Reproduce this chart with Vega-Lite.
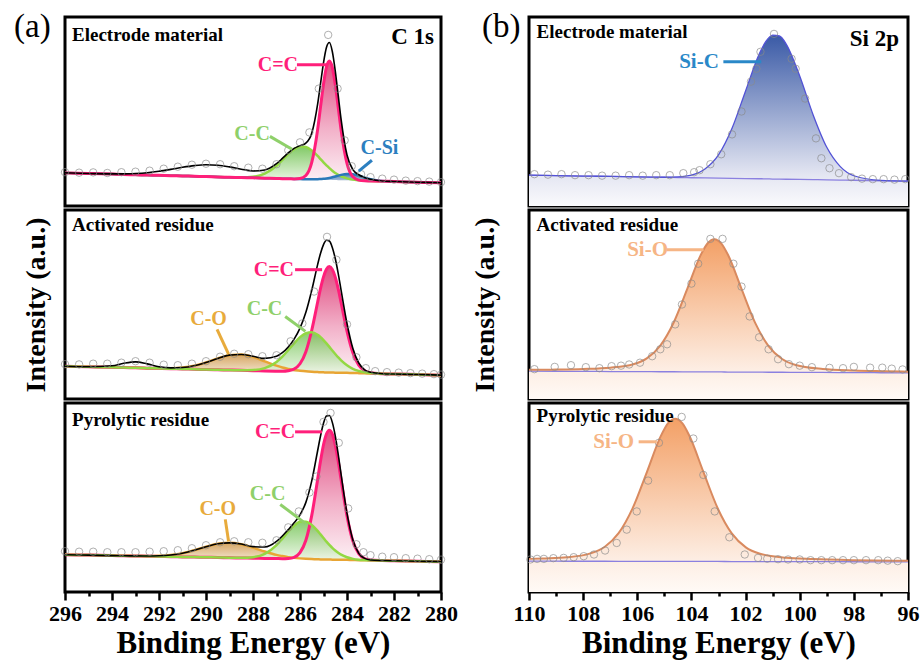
{
"$schema": "https://vega.github.io/schema/vega-lite/v6.json",
"background": "white",
"padding": {"left": 12, "top": 9, "right": 0, "bottom": 0},
"config": {
  "view": {"stroke": "black", "strokeWidth": 3},
  "font": "Liberation Serif",
  "axisY": {"labels": false, "ticks": false, "domain": false, "grid": false, "titleFont": "Liberation Serif", "titleFontSize": 28, "titleFontWeight": "bold", "titleColor": "black"},
  "axisX": {"tickWidth": 2.5, "tickColor": "black", "domain": false, "grid": false, "labelFont": "Liberation Serif", "labelFontSize": 22, "labelFontWeight": "bold", "labelColor": "black", "labelPadding": 3, "labelFlush": false, "labelOverlap": false, "titleFont": "Liberation Serif", "titleFontSize": 31, "titleFontWeight": "bold", "titleColor": "black", "titlePadding": 4}
},
"datasets": {
"L1": [
{"x":296,"b":33.3,"p":33.3,"c":33.3,"s":33.3,"e":33.3},
{"x":295,"b":32.7,"p":32.7,"c":32.7,"s":32.7,"e":32.7},
{"x":294,"b":32.1,"p":32.1,"c":32.1,"s":32.1,"e":32.3},
{"x":293.5,"b":31.7,"p":31.7,"c":31.7,"s":31.7,"e":32.3},
{"x":293,"b":31.4,"p":31.4,"c":31.4,"s":31.4,"e":32.7},
{"x":292.5,"b":31.1,"p":31.1,"c":31.1,"s":31.1,"e":33.5},
{"x":292,"b":30.8,"p":30.8,"c":30.8,"s":30.8,"e":34.9},
{"x":291.5,"b":30.5,"p":30.5,"c":30.5,"s":30.5,"e":36.8},
{"x":291,"b":30.2,"p":30.2,"c":30.2,"s":30.2,"e":38.9},
{"x":290.5,"b":29.9,"p":29.9,"c":29.9,"s":29.9,"e":40.6},
{"x":290,"b":29.6,"p":29.6,"c":29.6,"s":29.6,"e":41.5},
{"x":289.5,"b":29.2,"p":29.2,"c":29.2,"s":29.2,"e":41.0},
{"x":289,"b":28.9,"p":28.9,"c":28.9,"s":28.9,"e":39.3},
{"x":288.5,"b":28.6,"p":28.6,"c":28.8,"s":28.6,"e":37.0},
{"x":288,"b":28.3,"p":28.3,"c":29.4,"s":28.3,"e":35.2},
{"x":287.5,"b":28.0,"p":28.0,"c":32.5,"s":28.0,"e":36.2},
{"x":287,"b":27.7,"p":27.7,"c":40.5,"s":27.7,"e":42.6},
{"x":286.75,"b":27.5,"p":27.5,"c":46.3,"s":27.5,"e":47.8},
{"x":286.5,"b":27.4,"p":27.4,"c":52.3,"s":27.4,"e":53.3},
{"x":286.25,"b":27.2,"p":27.2,"c":57.2,"s":27.2,"e":57.9},
{"x":286,"b":27.1,"p":27.6,"c":59.8,"s":27.1,"e":60.7},
{"x":285.75,"b":26.9,"p":30.6,"c":59.3,"s":26.9,"e":63.3},
{"x":285.5,"b":26.7,"p":43.8,"c":55.8,"s":26.8,"e":73.2},
{"x":285.25,"b":26.6,"p":76.8,"c":50.3,"s":26.9,"e":102.4},
{"x":285.125,"b":26.5,"p":100.0,"c":47.1,"s":27.1,"e":123.3},
{"x":285,"b":26.4,"p":122.5,"c":43.9,"s":27.3,"e":144.0},
{"x":284.875,"b":26.4,"p":139.5,"c":40.9,"s":27.7,"e":159.3},
{"x":284.75,"b":26.3,"p":145.7,"c":38.0,"s":28.2,"e":164.3},
{"x":284.625,"b":26.2,"p":139.3,"c":35.5,"s":28.9,"e":155.3},
{"x":284.5,"b":26.1,"p":122.2,"c":33.2,"s":29.7,"e":135.9},
{"x":284.375,"b":26.0,"p":99.5,"c":31.4,"s":30.5,"e":111.4},
{"x":284.25,"b":26.0,"p":76.2,"c":29.9,"s":31.3,"e":86.9},
{"x":284,"b":25.8,"p":42.9,"c":27.8,"s":32.2,"e":51.3},
{"x":283.75,"b":25.6,"p":29.3,"c":26.5,"s":31.9,"e":36.5},
{"x":283.5,"b":25.5,"p":26.0,"c":25.9,"s":30.5,"e":31.4},
{"x":283.25,"b":25.3,"p":25.3,"c":25.5,"s":28.5,"e":28.7},
{"x":283,"b":25.2,"p":25.2,"c":25.2,"s":26.9,"e":26.9},
{"x":282.5,"b":24.9,"p":24.9,"c":24.9,"s":25.1,"e":25.1},
{"x":282,"b":24.6,"p":24.6,"c":24.6,"s":24.6,"e":24.6},
{"x":281,"b":23.9,"p":23.9,"c":23.9,"s":23.9,"e":23.9},
{"x":280,"b":23.3,"p":23.3,"c":23.3,"s":23.3,"e":23.3}
],
"L2": [
{"x":296,"b":33.0,"p":33.0,"c":33.0,"o":33.0,"e":33.0},
{"x":295,"b":32.4,"p":32.4,"c":32.4,"o":32.4,"e":32.4},
{"x":294,"b":31.9,"p":31.9,"c":31.9,"o":31.9,"e":33.4},
{"x":293.5,"b":31.6,"p":31.6,"c":31.6,"o":31.6,"e":35.9},
{"x":293,"b":31.3,"p":31.3,"c":31.3,"o":31.3,"e":37.3},
{"x":292.5,"b":31.0,"p":31.0,"c":31.0,"o":31.0,"e":35.3},
{"x":292,"b":30.8,"p":30.8,"c":30.8,"o":30.9,"e":32.4},
{"x":291.5,"b":30.5,"p":30.5,"c":30.5,"o":31.0,"e":31.3},
{"x":291,"b":30.2,"p":30.2,"c":30.2,"o":31.7,"e":31.7},
{"x":290.5,"b":29.9,"p":29.9,"c":29.9,"o":33.5,"e":33.5},
{"x":290,"b":29.6,"p":29.6,"c":29.6,"o":36.7,"e":36.7},
{"x":289.5,"b":29.3,"p":29.3,"c":29.3,"o":40.8,"e":40.8},
{"x":289,"b":29.1,"p":29.1,"c":29.1,"o":44.1,"e":44.1},
{"x":288.5,"b":28.8,"p":28.8,"c":28.9,"o":44.7,"e":44.8},
{"x":288,"b":28.5,"p":28.5,"c":29.1,"o":42.3,"e":42.9},
{"x":287.5,"b":28.2,"p":28.2,"c":31.1,"o":37.9,"e":40.8},
{"x":287,"b":27.9,"p":27.9,"c":37.3,"o":33.5,"e":42.9},
{"x":286.75,"b":27.8,"p":27.8,"c":42.6,"o":31.7,"e":46.5},
{"x":286.5,"b":27.7,"p":28.3,"c":49.1,"o":30.3,"e":52.3},
{"x":286.25,"b":27.5,"p":30.1,"c":56.0,"o":29.1,"e":60.2},
{"x":286,"b":27.4,"p":35.4,"c":62.2,"o":28.4,"e":71.2},
{"x":285.75,"b":27.2,"p":47.6,"c":66.1,"o":27.8,"e":87.1},
{"x":285.5,"b":27.1,"p":69.1,"c":67.0,"o":27.4,"e":109.3},
{"x":285.25,"b":26.9,"p":97.3,"c":64.5,"o":27.1,"e":135.1},
{"x":285.125,"b":26.9,"p":111.3,"c":62.2,"o":26.9,"e":146.6},
{"x":285,"b":26.8,"p":122.8,"c":59.2,"o":26.8,"e":155.2},
{"x":284.875,"b":26.7,"p":130.4,"c":55.9,"o":26.7,"e":159.6},
{"x":284.75,"b":26.7,"p":133.1,"c":52.4,"o":26.7,"e":158.8},
{"x":284.625,"b":26.6,"p":130.3,"c":48.7,"o":26.6,"e":152.4},
{"x":284.5,"b":26.5,"p":122.5,"c":45.2,"o":26.5,"e":141.2},
{"x":284.375,"b":26.5,"p":110.9,"c":41.9,"o":26.5,"e":126.3},
{"x":284.25,"b":26.4,"p":96.8,"c":38.8,"o":26.4,"e":109.2},
{"x":284,"b":26.3,"p":68.3,"c":33.9,"o":26.3,"e":75.9},
{"x":283.75,"b":26.1,"p":46.5,"c":30.3,"o":26.1,"e":50.7},
{"x":283.5,"b":26.0,"p":34.0,"c":28.2,"o":26.0,"e":36.2},
{"x":283.25,"b":25.8,"p":28.4,"c":26.8,"o":25.8,"e":29.4},
{"x":283,"b":25.7,"p":26.4,"c":26.1,"o":25.7,"e":26.8},
{"x":282.5,"b":25.4,"p":25.4,"c":25.4,"o":25.4,"e":25.4},
{"x":282,"b":25.1,"p":25.1,"c":25.1,"o":25.1,"e":25.1},
{"x":281,"b":24.6,"p":24.6,"c":24.6,"o":24.6,"e":24.6},
{"x":280,"b":24.0,"p":24.0,"c":24.0,"o":24.0,"e":24.0}
],
"L3": [
{"x":296,"b":37.5,"p":37.5,"c":37.5,"o":37.5,"e":37.5},
{"x":295,"b":37.1,"p":37.1,"c":37.1,"o":37.1,"e":37.1},
{"x":294,"b":36.6,"p":36.6,"c":36.6,"o":36.6,"e":36.6},
{"x":293.5,"b":36.4,"p":36.4,"c":36.4,"o":36.4,"e":36.4},
{"x":293,"b":36.2,"p":36.2,"c":36.2,"o":36.3,"e":36.3},
{"x":292.5,"b":36.0,"p":36.0,"c":36.0,"o":36.2,"e":36.2},
{"x":292,"b":35.8,"p":35.8,"c":35.8,"o":36.4,"e":36.4},
{"x":291.5,"b":35.5,"p":35.5,"c":35.5,"o":37.2,"e":37.2},
{"x":291,"b":35.3,"p":35.3,"c":35.3,"o":39.0,"e":39.0},
{"x":290.5,"b":35.1,"p":35.1,"c":35.1,"o":42.0,"e":42.0},
{"x":290,"b":34.9,"p":34.9,"c":34.9,"o":45.5,"e":45.5},
{"x":289.5,"b":34.7,"p":34.7,"c":34.7,"o":48.5,"e":48.5},
{"x":289,"b":34.4,"p":34.4,"c":34.4,"o":49.4,"e":49.4},
{"x":288.5,"b":34.2,"p":34.2,"c":34.4,"o":48.0,"e":48.2},
{"x":288,"b":34.0,"p":34.0,"c":35.0,"o":44.6,"e":45.6},
{"x":287.5,"b":33.8,"p":33.8,"c":38.3,"o":40.7,"e":45.2},
{"x":287,"b":33.6,"p":33.6,"c":47.1,"o":37.3,"e":50.8},
{"x":286.75,"b":33.5,"p":33.5,"c":53.7,"o":36.1,"e":56.3},
{"x":286.5,"b":33.3,"p":33.7,"c":60.6,"o":35.0,"e":62.7},
{"x":286.25,"b":33.2,"p":34.9,"c":66.7,"o":34.3,"e":69.5},
{"x":286,"b":33.1,"p":39.6,"c":70.5,"o":33.8,"e":77.6},
{"x":285.75,"b":33.0,"p":52.0,"c":70.7,"o":33.4,"e":90.1},
{"x":285.5,"b":32.9,"p":77.0,"c":67.4,"o":33.1,"e":111.7},
{"x":285.25,"b":32.8,"p":113.2,"c":61.5,"o":32.9,"e":142.0},
{"x":285.125,"b":32.7,"p":131.9,"c":57.9,"o":32.7,"e":157.1},
{"x":285,"b":32.7,"p":148.0,"c":54.3,"o":32.7,"e":169.6},
{"x":284.875,"b":32.6,"p":158.8,"c":50.7,"o":32.6,"e":176.9},
{"x":284.75,"b":32.6,"p":162.6,"c":47.4,"o":32.6,"e":177.4},
{"x":284.625,"b":32.5,"p":158.7,"c":44.3,"o":32.5,"e":170.5},
{"x":284.5,"b":32.5,"p":147.8,"c":41.7,"o":32.5,"e":157.0},
{"x":284.375,"b":32.4,"p":131.6,"c":39.4,"o":32.4,"e":138.6},
{"x":284.25,"b":32.4,"p":112.8,"c":37.5,"o":32.4,"e":117.9},
{"x":284,"b":32.3,"p":76.4,"c":34.9,"o":32.3,"e":79.0},
{"x":283.75,"b":32.1,"p":51.1,"c":33.3,"o":32.1,"e":52.3},
{"x":283.5,"b":32.0,"p":38.5,"c":32.5,"o":32.0,"e":39.0},
{"x":283.25,"b":31.9,"p":33.6,"c":32.1,"o":31.9,"e":33.8},
{"x":283,"b":31.8,"p":32.2,"c":31.8,"o":31.8,"e":32.2},
{"x":282.5,"b":31.6,"p":31.6,"c":31.6,"o":31.6,"e":31.6},
{"x":282,"b":31.4,"p":31.4,"c":31.4,"o":31.4,"e":31.4},
{"x":281,"b":30.9,"p":30.9,"c":30.9,"o":30.9,"e":30.9},
{"x":280,"b":30.5,"p":30.5,"c":30.5,"o":30.5,"e":30.5}
],
"R1": [
{"x":110,"b":31.0,"s":31.0},{"x":109,"b":30.6,"s":30.6},{"x":108,"b":30.1,"s":30.1},{"x":107.5,"b":29.9,"s":29.9},
{"x":107,"b":29.7,"s":29.7},{"x":106.5,"b":29.5,"s":29.5},{"x":106,"b":29.3,"s":29.3},{"x":105.5,"b":29.1,"s":29.1},
{"x":105,"b":28.9,"s":28.9},{"x":104.5,"b":28.6,"s":29.3},{"x":104,"b":28.4,"s":31.1},{"x":103.5,"b":28.2,"s":37.2},
{"x":103,"b":28.0,"s":51.4},{"x":102.5,"b":27.8,"s":78.2},{"x":102,"b":27.6,"s":115.7},{"x":101.5,"b":27.4,"s":152.6},
{"x":101.25,"b":27.3,"s":165.4},{"x":101,"b":27.1,"s":171.7},{"x":100.75,"b":27.0,"s":170.9},{"x":100.5,"b":26.9,"s":162.8},
{"x":100,"b":26.7,"s":130.7},{"x":99.5,"b":26.5,"s":91.3},{"x":99,"b":26.3,"s":59.0},{"x":98.5,"b":26.1,"s":39.6},
{"x":98,"b":25.9,"s":30.4},{"x":97,"b":25.4,"s":25.7},{"x":96,"b":25.0,"s":25.0}
],
"R2": [
{"x":110,"b":28.0,"s":29.3},{"x":109,"b":27.9,"s":29.6},{"x":108,"b":27.8,"s":30.2},{"x":107,"b":27.6,"s":31.5},
{"x":106.15,"b":27.5,"s":34.9},{"x":105.65,"b":27.5,"s":40.8},{"x":105.15,"b":27.4,"s":53.7},{"x":104.65,"b":27.4,"s":77.2},
{"x":104.15,"b":27.3,"s":110.9},{"x":103.65,"b":27.2,"s":145.1},{"x":103.4,"b":27.2,"s":156.6},{"x":103.15,"b":27.2,"s":160.7},
{"x":102.9,"b":27.2,"s":156.5},{"x":102.65,"b":27.1,"s":145.0},{"x":102.15,"b":27.1,"s":110.7},{"x":101.65,"b":27.0,"s":76.8},
{"x":101.15,"b":26.9,"s":53.2},{"x":100.65,"b":26.9,"s":40.2},{"x":100.15,"b":26.8,"s":34.2},{"x":99.15,"b":26.7,"s":30.2},
{"x":98,"b":26.5,"s":28.7},{"x":97,"b":26.4,"s":28.0},{"x":96,"b":26.3,"s":27.5}
],
"R3": [
{"x":110,"b":31.0,"s":33.3},{"x":109.5,"b":31.0,"s":33.8},{"x":108.6,"b":30.9,"s":34.9},{"x":107.735,"b":30.9,"s":38.8},
{"x":107.21,"b":30.9,"s":45.2},{"x":106.69,"b":30.8,"s":59.1},{"x":106.17,"b":30.8,"s":84.3},{"x":105.645,"b":30.8,"s":120.6},
{"x":105.12,"b":30.8,"s":157.4},{"x":104.86,"b":30.7,"s":169.7},{"x":104.6,"b":30.7,"s":174.1},{"x":104.34,"b":30.7,"s":169.7},
{"x":104.08,"b":30.7,"s":157.3},{"x":103.555,"b":30.7,"s":120.5},{"x":103.03,"b":30.7,"s":84.2},{"x":102.51,"b":30.6,"s":58.9},
{"x":101.99,"b":30.6,"s":44.9},{"x":101.465,"b":30.6,"s":38.5},{"x":100.5,"b":30.5,"s":34.4},{"x":99.5,"b":30.5,"s":33.1},
{"x":98,"b":30.4,"s":32.0},{"x":96,"b":30.3,"s":31.3}
],
"L1p": [
{"x":296,"y":34},{"x":295.4,"y":33.5},{"x":294.8,"y":33.8},{"x":294.2,"y":33.2},{"x":293.6,"y":34},{"x":293,"y":34.5},
{"x":292.4,"y":35.5},{"x":291.8,"y":37.5},{"x":291.2,"y":39.5},{"x":290.6,"y":41.5},{"x":290,"y":42.5},{"x":289.4,"y":42},
{"x":288.8,"y":40},{"x":288.2,"y":38.5},{"x":287.6,"y":37.5},{"x":287,"y":42},{"x":286.5,"y":56},{"x":286,"y":64},
{"x":285.6,"y":74},{"x":285.2,"y":118},{"x":284.8,"y":172},{"x":284.4,"y":118},{"x":284.1,"y":66},{"x":283.8,"y":40},
{"x":283.4,"y":32},{"x":283,"y":29},{"x":282.5,"y":27.5},{"x":282,"y":26.5},{"x":281.5,"y":25.5},{"x":281,"y":25},
{"x":280.5,"y":24.5},{"x":280,"y":24}
],
"L2p": [
{"x":296,"y":35},{"x":295.4,"y":34.8},{"x":294.8,"y":35.5},{"x":294.2,"y":35.5},{"x":293.6,"y":36.5},{"x":293,"y":38},
{"x":292.4,"y":36.5},{"x":291.8,"y":34.5},{"x":291.2,"y":34},{"x":290.6,"y":35.5},{"x":290,"y":38},{"x":289.4,"y":42.5},
{"x":288.8,"y":45.5},{"x":288.2,"y":45},{"x":287.6,"y":43},{"x":287,"y":44},{"x":286.4,"y":58},{"x":285.9,"y":76},
{"x":285.4,"y":108},{"x":284.85,"y":163},{"x":284.45,"y":140},{"x":284,"y":75},{"x":283.6,"y":42},{"x":283.2,"y":31},
{"x":282.8,"y":28},{"x":282.3,"y":27},{"x":281.8,"y":26.5},{"x":281.3,"y":26},{"x":280.8,"y":25.5},{"x":280.3,"y":25},{"x":280,"y":24.5}
],
"L3p": [
{"x":296,"y":41},{"x":295.4,"y":40.5},{"x":294.8,"y":40.5},{"x":294.2,"y":40},{"x":293.6,"y":40},{"x":293,"y":40},
{"x":292.4,"y":40.5},{"x":291.8,"y":41},{"x":291.2,"y":42},{"x":290.6,"y":44},{"x":290,"y":47},{"x":289.4,"y":50},
{"x":288.8,"y":51},{"x":288.2,"y":50},{"x":287.6,"y":49.5},{"x":287,"y":52},{"x":286.5,"y":65},{"x":286.05,"y":81},
{"x":285.6,"y":100},{"x":285.3,"y":116},{"x":285,"y":171},{"x":284.7,"y":180},{"x":284.35,"y":150},{"x":283.95,"y":84},
{"x":283.6,"y":48},{"x":283.3,"y":40},{"x":283,"y":37},{"x":282.5,"y":35.5},{"x":282,"y":35},{"x":281.5,"y":34},
{"x":281,"y":33.5},{"x":280.5,"y":33},{"x":280,"y":32.5}
],
"R1p": [
{"x":109.8,"y":32},{"x":109.3,"y":31.5},{"x":108.8,"y":32},{"x":108.3,"y":31},{"x":107.8,"y":31},{"x":107.3,"y":30.5},
{"x":106.8,"y":30.5},{"x":106.3,"y":31},{"x":105.8,"y":30.5},{"x":105.3,"y":31},{"x":104.8,"y":31},{"x":104.3,"y":33},
{"x":103.9,"y":34},{"x":103.7,"y":36},{"x":103.3,"y":42},{"x":102.9,"y":52},{"x":102.5,"y":72},{"x":102.15,"y":95},
{"x":101.8,"y":125},{"x":101.6,"y":138},{"x":101.45,"y":155},{"x":100.95,"y":173},{"x":100.3,"y":148},{"x":100.15,"y":138},
{"x":99.8,"y":108},{"x":99.4,"y":68},{"x":99.2,"y":48},{"x":98.9,"y":38},{"x":98.55,"y":33},{"x":98.1,"y":29},
{"x":97.7,"y":27.5},{"x":97.3,"y":27},{"x":96.9,"y":27},{"x":96.5,"y":26.5},{"x":96.1,"y":27}
],
"R2p": [
{"x":109.8,"y":30},{"x":109.05,"y":32.3},{"x":108.45,"y":34},{"x":107.9,"y":32},{"x":107.4,"y":31},{"x":106.95,"y":33},
{"x":106.6,"y":33.5},{"x":106.3,"y":34.7},{"x":105.9,"y":36.5},{"x":105.45,"y":43},{"x":105.15,"y":50},{"x":104.9,"y":55},
{"x":104.6,"y":75},{"x":104.35,"y":95},{"x":104,"y":116},{"x":103.75,"y":136},{"x":103.3,"y":161},{"x":102.85,"y":161},
{"x":102.45,"y":136},{"x":102.15,"y":113},{"x":101.85,"y":83},{"x":101.5,"y":62},{"x":101.15,"y":50},{"x":100.8,"y":40},
{"x":100.4,"y":35},{"x":100,"y":33.5},{"x":99.55,"y":32},{"x":98.9,"y":31.3},{"x":98.4,"y":31},{"x":98,"y":32.3},
{"x":97.4,"y":31.5},{"x":96.95,"y":31.5},{"x":96.6,"y":30.5},{"x":96.2,"y":29.7}
],
"R3p": [
{"x":109.95,"y":32.7},{"x":109.7,"y":33.3},{"x":109.45,"y":33.3},{"x":109.1,"y":34},{"x":108.72,"y":34.3},{"x":108.35,"y":35},
{"x":107.98,"y":36},{"x":107.6,"y":37.7},{"x":107.19,"y":41.7},{"x":106.76,"y":49.3},{"x":106.39,"y":62.7},{"x":106.02,"y":81},
{"x":105.6,"y":112},{"x":105.2,"y":150},{"x":104.36,"y":176},{"x":103.93,"y":154.3},{"x":103.56,"y":117.7},{"x":103.14,"y":81},
{"x":102.6,"y":55},{"x":102.03,"y":37.7},{"x":101.54,"y":34.3},{"x":101.2,"y":33.5},{"x":100.8,"y":33},{"x":100.43,"y":32.7},
{"x":100,"y":32.7},{"x":99.6,"y":32},{"x":99.2,"y":32},{"x":98.8,"y":32},{"x":98.4,"y":32},{"x":98,"y":32},
{"x":97.55,"y":32},{"x":97.1,"y":32},{"x":96.75,"y":31.5},{"x":96.38,"y":31}
],
"ann": [
{"p":"L1","label":"C=C","x":286.94,"y":142},
{"p":"L1","label":"C-C","x":288.04,"y":72},
{"p":"L1","label":"C-Si","x":282.62,"y":58},
{"p":"L2","label":"C=C","x":287.11,"y":130},
{"p":"L2","label":"C-C","x":287.51,"y":90},
{"p":"L2","label":"C-O","x":289.89,"y":80},
{"p":"L3","label":"C=C","x":287.06,"y":161},
{"p":"L3","label":"C-C","x":287.38,"y":99},
{"p":"L3","label":"C-O","x":289.5,"y":83},
{"p":"R1","label":"Si-C","x":103.72,"y":145},
{"p":"R2","label":"Si-O","x":105.62,"y":150},
{"p":"R3","label":"Si-O","x":106.87,"y":151}
],
"con": [
{"p":"L1","label":"C=C","x":286.13,"y":142,"x2":284.85,"y2":142},
{"p":"L1","label":"C-C","x":287.28,"y":70,"x2":286.34,"y2":57},
{"p":"L1","label":"C-Si","x":282.94,"y":46,"x2":283.5,"y2":35},
{"p":"L2","label":"C=C","x":286.21,"y":130,"x2":285.06,"y2":130},
{"p":"L2","label":"C-C","x":286.63,"y":83,"x2":285.77,"y2":68},
{"p":"L2","label":"C-O","x":289.53,"y":70,"x2":289.04,"y2":45},
{"p":"L3","label":"C=C","x":286.21,"y":161,"x2":285.06,"y2":161},
{"p":"L3","label":"C-C","x":286.84,"y":88,"x2":285.77,"y2":69},
{"p":"L3","label":"C-O","x":289.18,"y":73,"x2":289.04,"y2":51},
{"p":"R1","label":"Si-C","x":102.82,"y":145,"x2":101.42,"y2":145},
{"p":"R2","label":"Si-O","x":104.92,"y":150,"x2":103.55,"y2":150},
{"p":"R3","label":"Si-O","x":105.95,"y":151,"x2":105.28,"y2":151}
]
},
"spacing": 10,
"hconcat": [
{"spacing": 0, "vconcat": [
{
 "width": 376, "height": 189,
 "encoding": {"x": {"field":"x","type":"quantitative","scale":{"domain":[280,296],"reverse":true,"nice":false,"zero":false},"axis":null}},
 "layer": [
  {"data":{"name":"L1"},"mark":{"type":"area","interpolate":"monotone","opacity":0.85,"color":{"gradient":"linear","x1":0,"y1":0,"x2":0,"y2":1,"stops":[{"offset":0,"color":"#6cc04c"},{"offset":1,"color":"#eef8e8"}]}},"encoding":{"y":{"field":"c","type":"quantitative","scale":{"domain":[0,190],"nice":false,"zero":false},"axis":null},"y2":{"field":"b"}}},
  {"data":{"name":"L1"},"mark":{"type":"area","interpolate":"monotone","color":{"gradient":"linear","x1":0,"y1":0,"x2":0,"y2":1,"stops":[{"offset":0,"color":"#e04a80"},{"offset":0.55,"color":"#f2b0c8"},{"offset":1,"color":"#fdf2f6"}]}},"encoding":{"y":{"field":"p","type":"quantitative","scale":{"domain":[0,190],"nice":false,"zero":false},"axis":null},"y2":{"field":"b"}}},
  {"data":{"name":"L1"},"mark":{"type":"area","interpolate":"monotone","opacity":0.9,"color":{"gradient":"linear","x1":0,"y1":0,"x2":0,"y2":1,"stops":[{"offset":0,"color":"#2a68aa"},{"offset":1,"color":"#c4d6ea"}]}},"encoding":{"y":{"field":"s","type":"quantitative","scale":{"domain":[0,190],"nice":false,"zero":false},"axis":null},"y2":{"field":"b"}}},
  {"data":{"name":"L1"},"mark":{"type":"line","interpolate":"monotone","color":"#93d843","strokeWidth":2.5},"encoding":{"y":{"field":"c","type":"quantitative","scale":{"domain":[0,190],"nice":false,"zero":false},"axis":null}}},
  {"data":{"name":"L1"},"mark":{"type":"line","interpolate":"monotone","color":"#2a78b8","strokeWidth":2.5},"encoding":{"y":{"field":"s","type":"quantitative","scale":{"domain":[0,190],"nice":false,"zero":false},"axis":null}}},
  {"data":{"name":"L1"},"mark":{"type":"line","interpolate":"monotone","color":"#ff1f7a","strokeWidth":3},"encoding":{"y":{"field":"p","type":"quantitative","scale":{"domain":[0,190],"nice":false,"zero":false},"axis":null}}},
  {"data":{"name":"L1"},"mark":{"type":"line","interpolate":"monotone","color":"black","strokeWidth":1.6},"encoding":{"y":{"field":"e","type":"quantitative","scale":{"domain":[0,190],"nice":false,"zero":false},"axis":null}}},
  {"data":{"name":"L1p"},"mark":{"type":"point","shape":"circle","filled":false,"size":55,"color":"#8a8a8a","strokeWidth":0.8,"opacity":0.85},"encoding":{"y":{"field":"y","type":"quantitative","scale":{"domain":[0,190],"nice":false,"zero":false},"axis":null}}},
  {"data":{"name":"con"},"transform":[{"filter":"datum.p==='L1'"}],"mark":{"type":"rule","strokeWidth":3},"encoding":{"x2":{"field":"x2"},"y":{"field":"y","type":"quantitative","scale":{"domain":[0,190],"nice":false,"zero":false},"axis":null},"y2":{"field":"y2"},"color":{"field":"label","type":"nominal","scale":{"domain":["C=C","C-C","C-Si","C-O","Si-C","Si-O"],"range":["#ff1f7a","#8fd06a","#2c7fc0","#e8ab3c","#2a88c8","#f6b585"]},"legend":null}}},
  {"data":{"name":"ann"},"transform":[{"filter":"datum.p==='L1'"}],"mark":{"type":"text","font":"Liberation Serif","fontWeight":"bold","fontSize":20,"align":"center","baseline":"middle"},"encoding":{"y":{"field":"y","type":"quantitative","scale":{"domain":[0,190],"nice":false,"zero":false},"axis":null},"text":{"field":"label"},"color":{"field":"label","type":"nominal","scale":{"domain":["C=C","C-C","C-Si","C-O","Si-C","Si-O"],"range":["#ff1f7a","#8fd06a","#2c7fc0","#e8ab3c","#2a88c8","#f6b585"]},"legend":null}}},
  {"data":{"values":[{"t":"Electrode material","x":295.7,"y":172}]},"mark":{"type":"text","font":"Liberation Serif","fontWeight":"bold","fontSize":19,"align":"left","baseline":"middle","color":"black"},"encoding":{"y":{"field":"y","type":"quantitative","scale":{"domain":[0,190],"nice":false,"zero":false},"axis":null},"text":{"field":"t"}}},
  {"data":{"values":[{"t":"C 1s","x":280.3,"y":170}]},"mark":{"type":"text","font":"Liberation Serif","fontWeight":"bold","fontSize":23,"align":"right","baseline":"middle","color":"black"},"encoding":{"y":{"field":"y","type":"quantitative","scale":{"domain":[0,190],"nice":false,"zero":false},"axis":null},"text":{"field":"t"}}},
  {"data":{"values":[{"t":"(a)","x":298.17,"y":180}]},"mark":{"type":"text","font":"Liberation Serif","fontSize":33,"align":"left","baseline":"middle","color":"black"},"encoding":{"y":{"field":"y","type":"quantitative","scale":{"domain":[0,190],"nice":false,"zero":false},"axis":null},"text":{"field":"t"}}}
 ]
},
{
 "width": 376, "height": 189,
 "encoding": {"x": {"field":"x","type":"quantitative","scale":{"domain":[280,296],"reverse":true,"nice":false,"zero":false},"axis":null}},
 "layer": [
  {"data":{"name":"L2"},"mark":{"type":"area","interpolate":"monotone","opacity":0.9,"color":{"gradient":"linear","x1":0,"y1":0,"x2":0,"y2":1,"stops":[{"offset":0,"color":"#d29c52"},{"offset":1,"color":"#f5ead8"}]}},"encoding":{"y":{"field":"o","type":"quantitative","scale":{"domain":[0,190],"nice":false,"zero":false},"axis":{"title":"Intensity (a.u.)","titlePadding":15}},"y2":{"field":"b"}}},
  {"data":{"name":"L2"},"mark":{"type":"area","interpolate":"monotone","color":{"gradient":"linear","x1":0,"y1":0,"x2":0,"y2":1,"stops":[{"offset":0,"color":"#e04a80"},{"offset":0.55,"color":"#f2b0c8"},{"offset":1,"color":"#fdf2f6"}]}},"encoding":{"y":{"field":"p","type":"quantitative","scale":{"domain":[0,190],"nice":false,"zero":false},"axis":{"title":"Intensity (a.u.)","titlePadding":15}},"y2":{"field":"b"}}},
  {"data":{"name":"L2"},"mark":{"type":"area","interpolate":"monotone","opacity":0.8,"color":{"gradient":"linear","x1":0,"y1":0,"x2":0,"y2":1,"stops":[{"offset":0,"color":"#6cc04c"},{"offset":1,"color":"#eef8e8"}]}},"encoding":{"y":{"field":"c","type":"quantitative","scale":{"domain":[0,190],"nice":false,"zero":false},"axis":{"title":"Intensity (a.u.)","titlePadding":15}},"y2":{"field":"b"}}},
  {"data":{"name":"L2"},"mark":{"type":"line","interpolate":"monotone","color":"#e8a534","strokeWidth":2.5},"encoding":{"y":{"field":"o","type":"quantitative","scale":{"domain":[0,190],"nice":false,"zero":false},"axis":{"title":"Intensity (a.u.)","titlePadding":15}}}},
  {"data":{"name":"L2"},"mark":{"type":"line","interpolate":"monotone","color":"#ff1f7a","strokeWidth":3},"encoding":{"y":{"field":"p","type":"quantitative","scale":{"domain":[0,190],"nice":false,"zero":false},"axis":{"title":"Intensity (a.u.)","titlePadding":15}}}},
  {"data":{"name":"L2"},"mark":{"type":"line","interpolate":"monotone","color":"#93d843","strokeWidth":2.5},"encoding":{"y":{"field":"c","type":"quantitative","scale":{"domain":[0,190],"nice":false,"zero":false},"axis":{"title":"Intensity (a.u.)","titlePadding":15}}}},
  {"data":{"name":"L2"},"mark":{"type":"line","interpolate":"monotone","color":"black","strokeWidth":1.6},"encoding":{"y":{"field":"e","type":"quantitative","scale":{"domain":[0,190],"nice":false,"zero":false},"axis":{"title":"Intensity (a.u.)","titlePadding":15}}}},
  {"data":{"name":"L2p"},"mark":{"type":"point","shape":"circle","filled":false,"size":55,"color":"#8a8a8a","strokeWidth":0.8,"opacity":0.85},"encoding":{"y":{"field":"y","type":"quantitative","scale":{"domain":[0,190],"nice":false,"zero":false},"axis":{"title":"Intensity (a.u.)","titlePadding":15}}}},
  {"data":{"name":"con"},"transform":[{"filter":"datum.p==='L2'"}],"mark":{"type":"rule","strokeWidth":3},"encoding":{"x2":{"field":"x2"},"y":{"field":"y","type":"quantitative","scale":{"domain":[0,190],"nice":false,"zero":false},"axis":{"title":"Intensity (a.u.)","titlePadding":15}},"y2":{"field":"y2"},"color":{"field":"label","type":"nominal","scale":{"domain":["C=C","C-C","C-Si","C-O","Si-C","Si-O"],"range":["#ff1f7a","#8fd06a","#2c7fc0","#e8ab3c","#2a88c8","#f6b585"]},"legend":null}}},
  {"data":{"name":"ann"},"transform":[{"filter":"datum.p==='L2'"}],"mark":{"type":"text","font":"Liberation Serif","fontWeight":"bold","fontSize":20,"align":"center","baseline":"middle"},"encoding":{"y":{"field":"y","type":"quantitative","scale":{"domain":[0,190],"nice":false,"zero":false},"axis":{"title":"Intensity (a.u.)","titlePadding":15}},"text":{"field":"label"},"color":{"field":"label","type":"nominal","scale":{"domain":["C=C","C-C","C-Si","C-O","Si-C","Si-O"],"range":["#ff1f7a","#8fd06a","#2c7fc0","#e8ab3c","#2a88c8","#f6b585"]},"legend":null}}},
  {"data":{"values":[{"t":"Activated residue","x":295.7,"y":175}]},"mark":{"type":"text","font":"Liberation Serif","fontWeight":"bold","fontSize":19,"align":"left","baseline":"middle","color":"black"},"encoding":{"y":{"field":"y","type":"quantitative","scale":{"domain":[0,190],"nice":false,"zero":false},"axis":{"title":"Intensity (a.u.)","titlePadding":15}},"text":{"field":"t"}}}
 ]
},
{
 "width": 376, "height": 189,
 "encoding": {"x": {"field":"x","type":"quantitative","scale":{"domain":[280,296],"reverse":true,"nice":false,"zero":false},"axis":{"values":[296,295,294,293,292,291,290,289,288,287,286,285,284,283,282,281,280],"labelExpr":"datum.value % 2 === 0 ? datum.label : ''","tickSize":{"condition":{"test":"datum.value % 2 === 0","value":8},"value":4},"title":"Binding Energy (eV)"}}},
 "layer": [
  {"data":{"name":"L3"},"mark":{"type":"area","interpolate":"monotone","opacity":0.9,"color":{"gradient":"linear","x1":0,"y1":0,"x2":0,"y2":1,"stops":[{"offset":0,"color":"#d29c52"},{"offset":1,"color":"#f5ead8"}]}},"encoding":{"y":{"field":"o","type":"quantitative","scale":{"domain":[0,190],"nice":false,"zero":false},"axis":null},"y2":{"field":"b"}}},
  {"data":{"name":"L3"},"mark":{"type":"area","interpolate":"monotone","color":{"gradient":"linear","x1":0,"y1":0,"x2":0,"y2":1,"stops":[{"offset":0,"color":"#e04a80"},{"offset":0.55,"color":"#f2b0c8"},{"offset":1,"color":"#fdf2f6"}]}},"encoding":{"y":{"field":"p","type":"quantitative","scale":{"domain":[0,190],"nice":false,"zero":false},"axis":null},"y2":{"field":"b"}}},
  {"data":{"name":"L3"},"mark":{"type":"area","interpolate":"monotone","opacity":0.8,"color":{"gradient":"linear","x1":0,"y1":0,"x2":0,"y2":1,"stops":[{"offset":0,"color":"#6cc04c"},{"offset":1,"color":"#eef8e8"}]}},"encoding":{"y":{"field":"c","type":"quantitative","scale":{"domain":[0,190],"nice":false,"zero":false},"axis":null},"y2":{"field":"b"}}},
  {"data":{"name":"L3"},"mark":{"type":"line","interpolate":"monotone","color":"#e8a534","strokeWidth":2.5},"encoding":{"y":{"field":"o","type":"quantitative","scale":{"domain":[0,190],"nice":false,"zero":false},"axis":null}}},
  {"data":{"name":"L3"},"mark":{"type":"line","interpolate":"monotone","color":"#ff1f7a","strokeWidth":3},"encoding":{"y":{"field":"p","type":"quantitative","scale":{"domain":[0,190],"nice":false,"zero":false},"axis":null}}},
  {"data":{"name":"L3"},"mark":{"type":"line","interpolate":"monotone","color":"#93d843","strokeWidth":2.5},"encoding":{"y":{"field":"c","type":"quantitative","scale":{"domain":[0,190],"nice":false,"zero":false},"axis":null}}},
  {"data":{"name":"L3"},"mark":{"type":"line","interpolate":"monotone","color":"black","strokeWidth":1.6},"encoding":{"y":{"field":"e","type":"quantitative","scale":{"domain":[0,190],"nice":false,"zero":false},"axis":null}}},
  {"data":{"name":"L3p"},"mark":{"type":"point","shape":"circle","filled":false,"size":55,"color":"#8a8a8a","strokeWidth":0.8,"opacity":0.85},"encoding":{"y":{"field":"y","type":"quantitative","scale":{"domain":[0,190],"nice":false,"zero":false},"axis":null}}},
  {"data":{"name":"con"},"transform":[{"filter":"datum.p==='L3'"}],"mark":{"type":"rule","strokeWidth":3},"encoding":{"x2":{"field":"x2"},"y":{"field":"y","type":"quantitative","scale":{"domain":[0,190],"nice":false,"zero":false},"axis":null},"y2":{"field":"y2"},"color":{"field":"label","type":"nominal","scale":{"domain":["C=C","C-C","C-Si","C-O","Si-C","Si-O"],"range":["#ff1f7a","#8fd06a","#2c7fc0","#e8ab3c","#2a88c8","#f6b585"]},"legend":null}}},
  {"data":{"name":"ann"},"transform":[{"filter":"datum.p==='L3'"}],"mark":{"type":"text","font":"Liberation Serif","fontWeight":"bold","fontSize":20,"align":"center","baseline":"middle"},"encoding":{"y":{"field":"y","type":"quantitative","scale":{"domain":[0,190],"nice":false,"zero":false},"axis":null},"text":{"field":"label"},"color":{"field":"label","type":"nominal","scale":{"domain":["C=C","C-C","C-Si","C-O","Si-C","Si-O"],"range":["#ff1f7a","#8fd06a","#2c7fc0","#e8ab3c","#2a88c8","#f6b585"]},"legend":null}}},
  {"data":{"values":[{"t":"Pyrolytic residue","x":295.7,"y":173}]},"mark":{"type":"text","font":"Liberation Serif","fontWeight":"bold","fontSize":19,"align":"left","baseline":"middle","color":"black"},"encoding":{"y":{"field":"y","type":"quantitative","scale":{"domain":[0,190],"nice":false,"zero":false},"axis":null},"text":{"field":"t"}}}
 ]
}
]},
{"spacing": 0, "vconcat": [
{
 "width": 379, "height": 189,
 "encoding": {"x": {"field":"x","type":"quantitative","scale":{"domain":[96,110],"reverse":true,"nice":false,"zero":false},"axis":null}},
 "layer": [
  {"data":{"name":"R1"},"mark":{"type":"area","interpolate":"monotone","color":{"gradient":"linear","x1":0,"y1":0,"x2":0,"y2":1,"stops":[{"offset":0,"color":"#3a5aa6"},{"offset":0.82,"color":"#e4e6f2"},{"offset":1,"color":"#fafafc"}]}},"encoding":{"y":{"field":"s","type":"quantitative","scale":{"domain":[0,190],"nice":false,"zero":false},"axis":null},"y2":{"datum":0}}},
  {"data":{"name":"R1"},"mark":{"type":"line","interpolate":"monotone","color":"#8b80e0","strokeWidth":1.3},"encoding":{"y":{"field":"b","type":"quantitative","scale":{"domain":[0,190],"nice":false,"zero":false},"axis":null}}},
  {"data":{"name":"R1"},"mark":{"type":"line","interpolate":"monotone","color":"#5252d6","strokeWidth":1.3},"encoding":{"y":{"field":"s","type":"quantitative","scale":{"domain":[0,190],"nice":false,"zero":false},"axis":null}}},
  {"data":{"name":"R1p"},"mark":{"type":"point","shape":"circle","filled":false,"size":55,"color":"#8a8a8a","strokeWidth":0.8,"opacity":0.85},"encoding":{"y":{"field":"y","type":"quantitative","scale":{"domain":[0,190],"nice":false,"zero":false},"axis":null}}},
  {"data":{"name":"con"},"transform":[{"filter":"datum.p==='R1'"}],"mark":{"type":"rule","strokeWidth":3},"encoding":{"x2":{"field":"x2"},"y":{"field":"y","type":"quantitative","scale":{"domain":[0,190],"nice":false,"zero":false},"axis":null},"y2":{"field":"y2"},"color":{"field":"label","type":"nominal","scale":{"domain":["C=C","C-C","C-Si","C-O","Si-C","Si-O"],"range":["#ff1f7a","#8fd06a","#2c7fc0","#e8ab3c","#2a88c8","#f6b585"]},"legend":null}}},
  {"data":{"name":"ann"},"transform":[{"filter":"datum.p==='R1'"}],"mark":{"type":"text","font":"Liberation Serif","fontWeight":"bold","fontSize":21,"align":"center","baseline":"middle"},"encoding":{"y":{"field":"y","type":"quantitative","scale":{"domain":[0,190],"nice":false,"zero":false},"axis":null},"text":{"field":"label"},"color":{"field":"label","type":"nominal","scale":{"domain":["C=C","C-C","C-Si","C-O","Si-C","Si-O"],"range":["#ff1f7a","#8fd06a","#2c7fc0","#e8ab3c","#2a88c8","#f6b585"]},"legend":null}}},
  {"data":{"values":[{"t":"Electrode material","x":109.72,"y":175}]},"mark":{"type":"text","font":"Liberation Serif","fontWeight":"bold","fontSize":19,"align":"left","baseline":"middle","color":"black"},"encoding":{"y":{"field":"y","type":"quantitative","scale":{"domain":[0,190],"nice":false,"zero":false},"axis":null},"text":{"field":"t"}}},
  {"data":{"values":[{"t":"Si 2p","x":96.33,"y":168}]},"mark":{"type":"text","font":"Liberation Serif","fontWeight":"bold","fontSize":23,"align":"right","baseline":"middle","color":"black"},"encoding":{"y":{"field":"y","type":"quantitative","scale":{"domain":[0,190],"nice":false,"zero":false},"axis":null},"text":{"field":"t"}}},
  {"data":{"values":[{"t":"(b)","x":111.74,"y":180}]},"mark":{"type":"text","font":"Liberation Serif","fontSize":33,"align":"left","baseline":"middle","color":"black"},"encoding":{"y":{"field":"y","type":"quantitative","scale":{"domain":[0,190],"nice":false,"zero":false},"axis":null},"text":{"field":"t"}}}
 ]
},
{
 "width": 379, "height": 189,
 "encoding": {"x": {"field":"x","type":"quantitative","scale":{"domain":[96,110],"reverse":true,"nice":false,"zero":false},"axis":null}},
 "layer": [
  {"data":{"name":"R2"},"mark":{"type":"area","interpolate":"monotone","color":{"gradient":"linear","x1":0,"y1":0,"x2":0,"y2":1,"stops":[{"offset":0,"color":"#f3a066"},{"offset":0.82,"color":"#fdeee4"},{"offset":1,"color":"#fffaf6"}]}},"encoding":{"y":{"field":"s","type":"quantitative","scale":{"domain":[0,190],"nice":false,"zero":false},"axis":{"title":"Intensity (a.u.)","titlePadding":30}},"y2":{"datum":0}}},
  {"data":{"name":"R2"},"mark":{"type":"line","interpolate":"monotone","color":"#8b80e0","strokeWidth":1.3},"encoding":{"y":{"field":"b","type":"quantitative","scale":{"domain":[0,190],"nice":false,"zero":false},"axis":{"title":"Intensity (a.u.)","titlePadding":30}}}},
  {"data":{"name":"R2"},"mark":{"type":"line","interpolate":"monotone","color":"#d98a5f","strokeWidth":2},"encoding":{"y":{"field":"s","type":"quantitative","scale":{"domain":[0,190],"nice":false,"zero":false},"axis":{"title":"Intensity (a.u.)","titlePadding":30}}}},
  {"data":{"name":"R2p"},"mark":{"type":"point","shape":"circle","filled":false,"size":55,"color":"#8a8a8a","strokeWidth":0.8,"opacity":0.85},"encoding":{"y":{"field":"y","type":"quantitative","scale":{"domain":[0,190],"nice":false,"zero":false},"axis":{"title":"Intensity (a.u.)","titlePadding":30}}}},
  {"data":{"name":"con"},"transform":[{"filter":"datum.p==='R2'"}],"mark":{"type":"rule","strokeWidth":3},"encoding":{"x2":{"field":"x2"},"y":{"field":"y","type":"quantitative","scale":{"domain":[0,190],"nice":false,"zero":false},"axis":{"title":"Intensity (a.u.)","titlePadding":30}},"y2":{"field":"y2"},"color":{"field":"label","type":"nominal","scale":{"domain":["C=C","C-C","C-Si","C-O","Si-C","Si-O"],"range":["#ff1f7a","#8fd06a","#2c7fc0","#e8ab3c","#2a88c8","#f6b585"]},"legend":null}}},
  {"data":{"name":"ann"},"transform":[{"filter":"datum.p==='R2'"}],"mark":{"type":"text","font":"Liberation Serif","fontWeight":"bold","fontSize":21,"align":"center","baseline":"middle"},"encoding":{"y":{"field":"y","type":"quantitative","scale":{"domain":[0,190],"nice":false,"zero":false},"axis":{"title":"Intensity (a.u.)","titlePadding":30}},"text":{"field":"label"},"color":{"field":"label","type":"nominal","scale":{"domain":["C=C","C-C","C-Si","C-O","Si-C","Si-O"],"range":["#ff1f7a","#8fd06a","#2c7fc0","#e8ab3c","#2a88c8","#f6b585"]},"legend":null}}},
  {"data":{"values":[{"t":"Activated residue","x":109.72,"y":175}]},"mark":{"type":"text","font":"Liberation Serif","fontWeight":"bold","fontSize":19,"align":"left","baseline":"middle","color":"black"},"encoding":{"y":{"field":"y","type":"quantitative","scale":{"domain":[0,190],"nice":false,"zero":false},"axis":{"title":"Intensity (a.u.)","titlePadding":30}},"text":{"field":"t"}}}
 ]
},
{
 "width": 379, "height": 189,
 "encoding": {"x": {"field":"x","type":"quantitative","scale":{"domain":[96,110],"reverse":true,"nice":false,"zero":false},"axis":{"values":[110,109,108,107,106,105,104,103,102,101,100,99,98,97,96],"labelExpr":"datum.value % 2 === 0 ? datum.label : ''","tickSize":{"condition":{"test":"datum.value % 2 === 0","value":8},"value":4},"title":"Binding Energy (eV)"}}},
 "layer": [
  {"data":{"name":"R3"},"mark":{"type":"area","interpolate":"monotone","color":{"gradient":"linear","x1":0,"y1":0,"x2":0,"y2":1,"stops":[{"offset":0,"color":"#f3a066"},{"offset":0.82,"color":"#fdeee4"},{"offset":1,"color":"#fffaf6"}]}},"encoding":{"y":{"field":"s","type":"quantitative","scale":{"domain":[0,190],"nice":false,"zero":false},"axis":null},"y2":{"datum":0}}},
  {"data":{"name":"R3"},"mark":{"type":"line","interpolate":"monotone","color":"#8b80e0","strokeWidth":1.3},"encoding":{"y":{"field":"b","type":"quantitative","scale":{"domain":[0,190],"nice":false,"zero":false},"axis":null}}},
  {"data":{"name":"R3"},"mark":{"type":"line","interpolate":"monotone","color":"#d98a5f","strokeWidth":2},"encoding":{"y":{"field":"s","type":"quantitative","scale":{"domain":[0,190],"nice":false,"zero":false},"axis":null}}},
  {"data":{"name":"R3p"},"mark":{"type":"point","shape":"circle","filled":false,"size":55,"color":"#8a8a8a","strokeWidth":0.8,"opacity":0.85},"encoding":{"y":{"field":"y","type":"quantitative","scale":{"domain":[0,190],"nice":false,"zero":false},"axis":null}}},
  {"data":{"name":"con"},"transform":[{"filter":"datum.p==='R3'"}],"mark":{"type":"rule","strokeWidth":3},"encoding":{"x2":{"field":"x2"},"y":{"field":"y","type":"quantitative","scale":{"domain":[0,190],"nice":false,"zero":false},"axis":null},"y2":{"field":"y2"},"color":{"field":"label","type":"nominal","scale":{"domain":["C=C","C-C","C-Si","C-O","Si-C","Si-O"],"range":["#ff1f7a","#8fd06a","#2c7fc0","#e8ab3c","#2a88c8","#f6b585"]},"legend":null}}},
  {"data":{"name":"ann"},"transform":[{"filter":"datum.p==='R3'"}],"mark":{"type":"text","font":"Liberation Serif","fontWeight":"bold","fontSize":21,"align":"center","baseline":"middle"},"encoding":{"y":{"field":"y","type":"quantitative","scale":{"domain":[0,190],"nice":false,"zero":false},"axis":null},"text":{"field":"label"},"color":{"field":"label","type":"nominal","scale":{"domain":["C=C","C-C","C-Si","C-O","Si-C","Si-O"],"range":["#ff1f7a","#8fd06a","#2c7fc0","#e8ab3c","#2a88c8","#f6b585"]},"legend":null}}},
  {"data":{"values":[{"t":"Pyrolytic residue","x":109.72,"y":177}]},"mark":{"type":"text","font":"Liberation Serif","fontWeight":"bold","fontSize":19,"align":"left","baseline":"middle","color":"black"},"encoding":{"y":{"field":"y","type":"quantitative","scale":{"domain":[0,190],"nice":false,"zero":false},"axis":null},"text":{"field":"t"}}}
 ]
}
]}
]
}
